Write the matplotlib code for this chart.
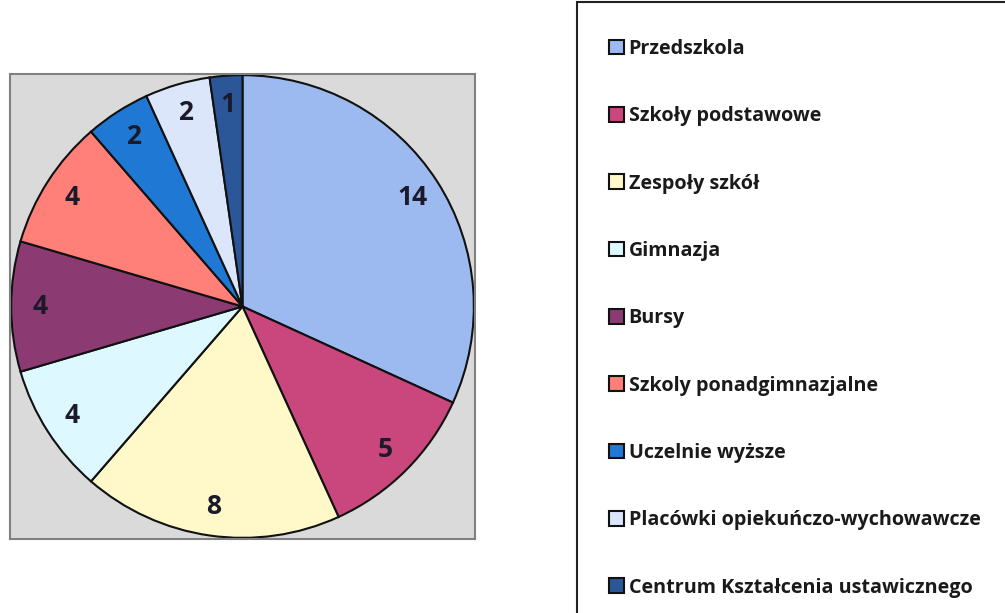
import numpy as np
import matplotlib.pyplot as plt
from matplotlib.patches import Rectangle

plt.rcParams['font.family'] = ['Open Sans', 'DejaVu Sans']

categories = ['Przedszkola', 'Szkoły podstawowe', 'Zespoły szkół', 'Gimnazja', 'Bursy',
              'Szkoly ponadgimnazjalne', 'Uczelnie wyższe',
              'Placówki opiekuńczo-wychowawcze', 'Centrum Kształcenia ustawicznego']
values = [14, 5, 8, 4, 4, 4, 2, 2, 1]
colors = ['#9dbaf0', '#c9477c', '#fff8c8', '#def8ff', '#8c3a72',
          '#ff8079', '#1f78d4', '#dbe6fb', '#2b5799']

W, H = 1005, 613
fig = plt.figure(figsize=(W / 100, H / 100), dpi=100)

# pie area (grey box)
ax = fig.add_axes([10 / W, (H - 539) / H, 465 / W, 465 / H])
wedges, texts = ax.pie(values, colors=colors, startangle=90, counterclock=False,
                       radius=0.995, frame=True,
                       wedgeprops=dict(edgecolor='#111111', linewidth=1.5))
for w, v in zip(wedges, values):
    ang = np.deg2rad((w.theta1 + w.theta2) / 2)
    ax.text(0.87 * np.cos(ang), 0.87 * np.sin(ang), str(v), ha='center', va='center',
            fontsize=19, fontweight='bold', color='#1a1a2a')
ax.set_facecolor('#dadada')
for s in ax.spines.values():
    s.set_color('#808080')
    s.set_linewidth(1.5)
ax.set_xlim(-1, 1)
ax.set_ylim(-1, 1)
ax.set_xticks([])
ax.set_yticks([])
ax.set_aspect('auto')

# legend box
fig.patches.append(Rectangle((577 / W, -0.1), 0.5, (H - 2) / H + 0.1,
                             transform=fig.transFigure, facecolor='white',
                             edgecolor='#222222', linewidth=1.5))

leg = fig.legend(wedges, categories, loc='upper left', bbox_to_anchor=(601 / W, (H - 31) / H),
                 frameon=False, fontsize=14.2, labelspacing=2.4, handlelength=0.75,
                 handleheight=0.75, handletextpad=0.25, borderaxespad=0)
for t in leg.get_texts():
    t.set_fontweight('bold')
    t.set_color('#1a1a1a')

fig.savefig('out.png', dpi=100)
